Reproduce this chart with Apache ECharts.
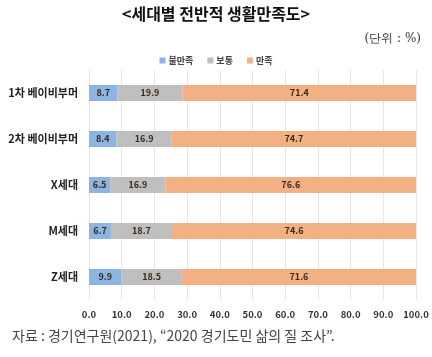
<!DOCTYPE html>
<html><head><meta charset="utf-8">
<script src="https://cdn.jsdelivr.net/npm/echarts@6/dist/echarts.min.js"></script>
<style>html,body{margin:0;padding:0;background:#fff}#c{width:432px;height:357px}</style>
</head><body><div id="c"></div>
<script>
const categories = ['1차 베이비부머', '2차 베이비부머', 'X세대', 'M세대', 'Z세대'];
const dissatisfied = [8.7, 8.4, 6.5, 6.7, 9.9];
const neutral = [19.9, 16.9, 16.9, 18.7, 18.5];
const satisfied = [71.4, 74.7, 76.6, 74.6, 71.6];
const seriesNames = ['불만족', '보통', '만족'];
const xTicks = { min: 0, max: 100, interval: 10 };

const font = '"Noto Sans CJK KR", "Noto Sans", sans-serif';
const colors = ['#8cb5e1', '#bfbfbf', '#f3b083'];
const labelStyle = { show: true, position: 'inside', color: '#3a2a1a', fontSize: 9, fontWeight: 'bold', fontFamily: font, formatter: p => p.value.toFixed(1) };

const chart = echarts.init(document.getElementById('c'), null, { renderer: 'canvas' });
chart.setOption({
  animation: false,
  title: [
    { text: '<세대별 전반적 생활만족도>', left: 'center', top: 1, textStyle: { fontFamily: font, fontSize: 16, fontWeight: 'bold', color: '#111' } },
    { text: '(단위 : %)', right: 6, top: 28, textStyle: { fontFamily: '"DejaVu Serif", "Liberation Serif", serif', fontSize: 12, fontWeight: 'normal', color: '#333' } },
    { text: '자료 : 경기연구원(2021), “2020 경기도민 삶의 질 조사”.', left: 7, top: 324, textStyle: { fontFamily: font, fontSize: 14, fontWeight: 'normal', color: '#444' } }
  ],
  legend: {
    data: seriesNames, top: 51, left: 'center', itemWidth: 6, itemHeight: 6, itemGap: 14, icon: 'rect',
    textStyle: { fontFamily: font, fontSize: 9, fontWeight: 'bold', color: '#444', padding: [0, 0, 0, -2] }
  },
  grid: { left: 89, right: 16, top: 70, bottom: 57 },
  xAxis: {
    type: 'value', min: xTicks.min, max: xTicks.max, interval: xTicks.interval,
    axisLine: { show: false }, axisTick: { show: false },
    splitLine: { lineStyle: { color: '#e6e6e6' } },
    axisLabel: { formatter: v => v.toFixed(1), fontFamily: font, fontSize: 9.5, fontWeight: 'bold', color: '#333', margin: 10 }
  },
  yAxis: {
    type: 'category', data: categories, inverse: true,
    axisLine: { show: false }, axisTick: { show: false },
    axisLabel: { fontFamily: font, fontSize: 11, fontWeight: 'bold', color: '#222', margin: 11 }
  },
  series: [
    { name: seriesNames[0], type: 'bar', stack: 's', data: dissatisfied, barWidth: 16, itemStyle: { color: colors[0] }, label: labelStyle },
    { name: seriesNames[1], type: 'bar', stack: 's', data: neutral, barWidth: 16, itemStyle: { color: colors[1] }, label: labelStyle },
    { name: seriesNames[2], type: 'bar', stack: 's', data: satisfied, barWidth: 16, itemStyle: { color: colors[2] }, label: labelStyle }
  ]
});
</script></body></html>
